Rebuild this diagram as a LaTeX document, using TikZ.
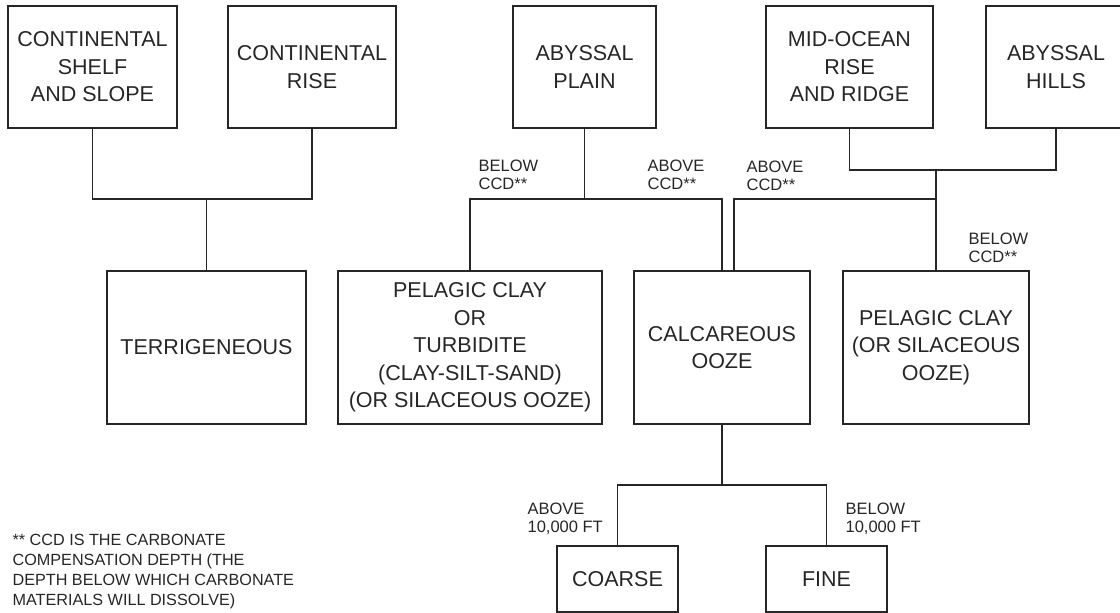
\documentclass[tikz,border=0pt]{standalone}
\usepackage{fontspec}
\setmainfont{Liberation Sans}
\usepackage{tikz}

\begin{document}
\begin{tikzpicture}[x=1pt, y=-1pt, line width=1.2pt, color=black!85,
  box/.style={rectangle, draw, inner sep=0pt, align=center, font=\fontsize{21.5}{27.5}\selectfont},
  top/.style={box, minimum height=122pt},
  mid/.style={box, minimum height=153pt},
  low/.style={box, minimum height=66pt},
  lbl/.style={anchor=north west, inner sep=0pt, align=left, font=\fontsize{16.5}{18.5}\selectfont}]

\useasboundingbox (0,0) rectangle (1120,613);
\clip (0,0) rectangle (1120,613);

% Define the sea floor regions
\node[top, minimum width=169pt] (shelf) at (92.5,67) {CONTINENTAL\\SHELF\\AND SLOPE};
\node[top, minimum width=168pt] (rise) at (312,67) {CONTINENTAL\\RISE};
\node[top, minimum width=143pt] (plain) at (584.5,67) {ABYSSAL\\PLAIN};
\node[top, minimum width=167pt] (ridge) at (849.5,67) {MID-OCEAN\\RISE\\AND RIDGE};
\node[top, minimum width=140pt] (hills) at (1056,67) {ABYSSAL\\HILLS};

% Define the sediments
\node[mid, minimum width=199pt] (terr) at (206.5,347.5) {TERRIGENEOUS};
\node[mid, minimum width=264pt] (pclay) at (470,347.5) {PELAGIC CLAY\\OR\\TURBIDITE\\(CLAY-SILT-SAND)\\(OR SILACEOUS OOZE)};
\node[mid, minimum width=176pt] (calc) at (722,347.5) {CALCAREOUS\\OOZE};
\node[mid, minimum width=186pt] (pooze) at (936,347.5) {PELAGIC CLAY\\(OR SILACEOUS\\OOZE)};

\node[low, minimum width=121pt] (coarse) at (617.5,579) {COARSE};
\node[low, minimum width=121pt] (fine) at (826.5,579) {FINE};

% Continental margin
\coordinate (lev) at (0,199);
\coordinate (jl) at (terr.north |- lev);
\draw (shelf.south) |- (jl) -| (rise.south);
\draw (jl) -- (terr.north);

% Abyssal plain
\coordinate (jp) at (plain.south |- lev);
\draw (plain.south) -- (jp);
\draw (pclay.north) |- (jp) -| (calc.north);

% Mid-ocean ridge and abyssal hills
\coordinate (jr) at (936,170);
\draw (ridge.south) |- (jr) -| (hills.south);
\draw (jr) -- (pooze.north);
\draw (pooze.north |- lev) -| ([xshift=12pt]calc.north);

% Calcareous ooze splits by depth
\coordinate (jc) at (722,485);
\draw (calc.south) -- (jc);
\draw (coarse.north) |- (jc) -| (fine.north);

% Branch labels
\node[lbl] (b1) at (478,159) {BELOW\\CCD**};
\node[lbl] (a1) at (647,159) {ABOVE\\CCD**};
\node[lbl] (a2) at (746,160) {ABOVE\\CCD**};
\node[lbl] (b2) at (968,232) {BELOW\\CCD**};
\node[lbl] (a3) at (527,502) {ABOVE\\10,000 FT};
\node[lbl] (b3) at (845,502) {BELOW\\10,000 FT};

% Footnote
\node[lbl, font=\fontsize{16.2}{20}\selectfont] (note) at (12,534) {** CCD IS THE CARBONATE\\COMPENSATION DEPTH (THE\\DEPTH BELOW WHICH CARBONATE\\MATERIALS WILL DISSOLVE)};

\end{tikzpicture}
\end{document}
